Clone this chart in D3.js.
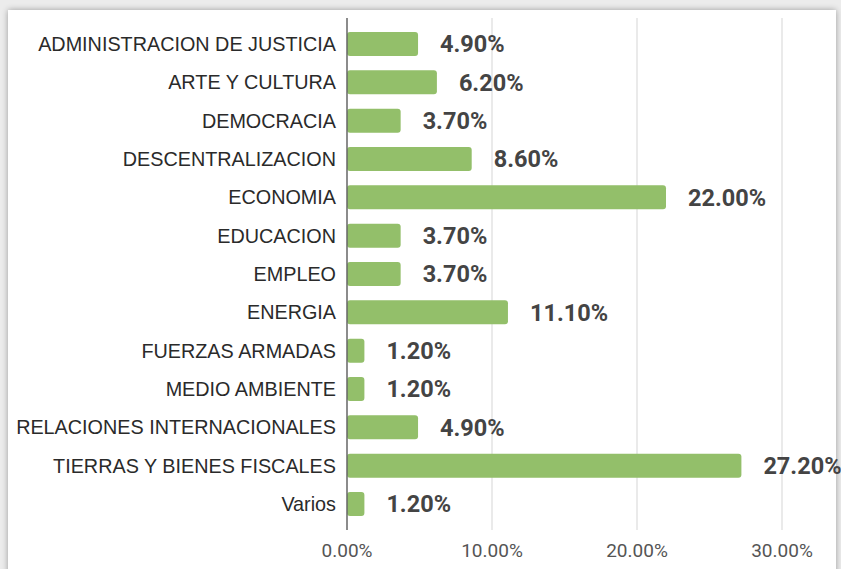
<!DOCTYPE html>
<html><head><meta charset="utf-8">
<script src="https://cdn.jsdelivr.net/npm/d3@7"></script>
<style>
html,body{margin:0;padding:0;background:#ececec;}
svg{display:block;}
</style></head>
<body>
<svg id="c" width="841" height="569"></svg>
<script>
const categories = ["ADMINISTRACION DE JUSTICIA","ARTE Y CULTURA","DEMOCRACIA","DESCENTRALIZACION","ECONOMIA","EDUCACION","EMPLEO","ENERGIA","FUERZAS ARMADAS","MEDIO AMBIENTE","RELACIONES INTERNACIONALES","TIERRAS Y BIENES FISCALES","Varios"];
const values = [4.9,6.2,3.7,8.6,22.0,3.7,3.7,11.1,1.2,1.2,4.9,27.2,1.2];
const xTicks = [0,10,20,30];

const svg = d3.select("#c");
const defs = svg.append("defs");
const f = defs.append("filter").attr("id","sh").attr("x","-5%").attr("y","-5%").attr("width","110%").attr("height","110%");
f.append("feGaussianBlur").attr("in","SourceAlpha").attr("stdDeviation",3);
f.append("feComponentTransfer").append("feFuncA").attr("type","linear").attr("slope",0.35);
const m = f.append("feMerge"); m.append("feMergeNode"); m.append("feMergeNode").attr("in","SourceGraphic");
svg.append("rect").attr("x",8).attr("y",10).attr("width",828).attr("height",575).attr("fill","#fff").attr("filter","url(#sh)");

const x = d3.scaleLinear().domain([0,30]).range([347,782]);
const y = d3.scalePoint().domain(categories).range([44,504]);
const bh = 24;

// gridlines
svg.append("g").selectAll("line").data(xTicks.slice(1)).join("line")
  .attr("x1",d=>x(d)).attr("x2",d=>x(d)).attr("y1",18).attr("y2",530)
  .attr("stroke","#dcdcdc").attr("stroke-width",1.2);

// bars
svg.append("g").selectAll("rect").data(values).join("rect")
  .attr("x",x(0)).attr("y",(d,i)=>y(categories[i])-bh/2)
  .attr("width",d=>x(d)-x(0)).attr("height",bh)
  .attr("rx",3).attr("fill","#93bf6a");

// axis line
svg.append("line").attr("x1",x(0)).attr("x2",x(0)).attr("y1",18).attr("y2",530)
  .attr("stroke","#666").attr("stroke-width",1.5);

// category labels
svg.append("g").selectAll("text").data(categories).join("text")
  .attr("x",336).attr("y",d=>y(d)).attr("dy","0.36em")
  .attr("text-anchor","end").attr("font-family","Liberation Sans, Arial, sans-serif")
  .attr("font-size",19.8).attr("fill","#2a2a2a").text(d=>d);

// value labels
svg.append("g").selectAll("text").data(values).join("text")
  .attr("x",d=>x(d)+22).attr("y",(d,i)=>y(categories[i])).attr("dy","0.36em")
  .attr("font-family","Roboto, sans-serif").attr("font-weight","bold")
  .attr("font-size",23.5).attr("fill","#444").text(d=>d.toFixed(2)+"%");

// x tick labels
svg.append("g").selectAll("text").data(xTicks).join("text")
  .attr("x",d=>x(d)).attr("y",550).attr("dy","0.36em").attr("text-anchor","middle")
  .attr("font-family","Roboto, sans-serif").attr("font-size",19).attr("fill","#555")
  .text(d=>d.toFixed(2)+"%");
</script>
</body></html>
